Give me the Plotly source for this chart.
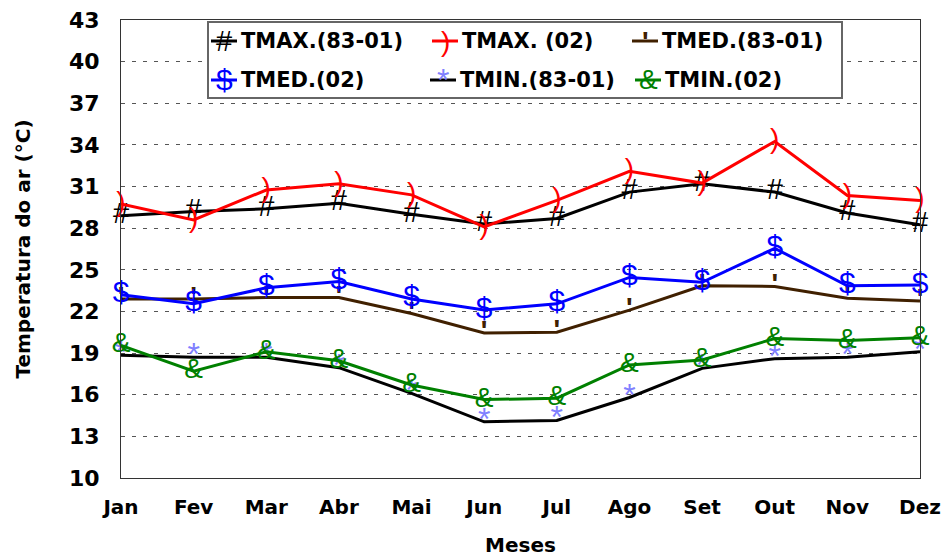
import plotly.graph_objects as go

meses = ['Jan', 'Fev', 'Mar', 'Abr', 'Mai', 'Jun', 'Jul', 'Ago', 'Set', 'Out', 'Nov', 'Dez']
tmax_8301 = [28.9, 29.2, 29.4, 29.8, 29.0, 28.3, 28.7, 30.6, 31.2, 30.6, 29.1, 28.25]
tmax_02 = [29.75, 28.6, 30.75, 31.2, 30.4, 28.1, 30.0, 32.1, 31.25, 34.25, 30.35, 30.0]
tmed_8301 = [22.9, 22.9, 23.0, 23.0, 21.85, 20.45, 20.5, 22.1, 23.85, 23.8, 22.95, 22.75]
tmed_02 = [23.2, 22.55, 23.7, 24.15, 22.9, 22.1, 22.55, 24.45, 24.1, 26.55, 23.85, 23.9]
tmin_8301 = [18.85, 18.7, 18.7, 17.95, 16.1, 14.05, 14.15, 15.8, 17.9, 18.6, 18.7, 19.1]
tmin_02 = [19.55, 17.7, 19.1, 18.45, 16.7, 15.65, 15.75, 18.15, 18.5, 20.05, 19.9, 20.1]
y_ticks = [10, 13, 16, 19, 22, 25, 28, 31, 34, 37, 40, 43]

series = [
    # name, values, line colour, glyph, glyph colour, glyph size, glyph weight
    ('TMAX.(83-01)', tmax_8301, '#000000', '#', '#000000', 29, 'normal'),
    ('TMAX. (02)', tmax_02, '#ff0000', ')', '#ff0000', 28, 'normal'),
    ('TMED.(83-01)', tmed_8301, '#402000', "'", '#402000', 28, 'bold'),
    ('TMED.(02)', tmed_02, '#0000ff', '$', '#0000ff', 30, 'normal'),
    ('TMIN.(83-01)', tmin_8301, '#000000', '*', '#8080ff', 32, 'normal'),
    ('TMIN.(02)', tmin_02, '#008000', '&', '#008000', 28, 'normal'),
]

xs = list(range(len(meses)))
fig = go.Figure()
for name, vals, lc, g, gc, gs, gw in series:
    fig.add_trace(go.Scatter(
        x=xs, y=vals, name=name, mode='lines+text',
        text=[g] * len(vals), textposition='middle center',
        textfont=dict(family='Liberation Sans', size=gs, color=gc, weight=gw),
        line=dict(color=lc, width=3), cliponaxis=False, showlegend=False))

W, H = 946, 559
L, R, T, B = 121, 26, 20, 81
pw, ph = W - L - R, H - T - B


def px(x):
    return (x - L) / pw


def py(y):
    return (H - B - y) / ph


shapes = [dict(type='rect', xref='paper', yref='paper', x0=px(208), x1=px(842),
               y0=py(98), y1=py(22), line=dict(color='#666666', width=2),
               fillcolor='white', layer='above')]
annotations = []
lfont = dict(family='DejaVu Sans', size=21, color='black', weight='bold')
legend_pos = [(211, 41), (432, 41), (632, 41), (211, 80), (430, 80), (635, 80)]
for (name, vals, lc, g, gc, gs, gw), (x0, yc) in zip(series, legend_pos):
    shapes.append(dict(type='line', xref='paper', yref='paper', x0=px(x0), x1=px(x0 + 26),
                       y0=py(yc), y1=py(yc), line=dict(color=lc, width=3), layer='above'))
    annotations.append(dict(xref='paper', yref='paper', x=px(x0 + 13), y=py(yc), text=g,
                            showarrow=False, xanchor='center', yanchor='middle',
                            font=dict(family='Liberation Sans', size=gs, color=gc, weight=gw)))
    annotations.append(dict(xref='paper', yref='paper', x=px(x0 + 28), y=py(yc), text=name,
                            showarrow=False, xanchor='left', yanchor='middle', font=lfont))

fig.update_layout(
    width=W, height=H, margin=dict(l=L, r=R, t=T, b=B, autoexpand=False),
    paper_bgcolor='white', plot_bgcolor='white',
    shapes=shapes, annotations=annotations,
    xaxis=dict(range=[0, 11], tickvals=xs, ticktext=meses, showgrid=False, automargin=False,
               showline=True, linecolor='#333333', linewidth=1, mirror=True,
               ticks='outside', ticklen=11, tickcolor='rgba(0,0,0,0)',
               tickfont=dict(family='DejaVu Sans', size=20, color='black', weight='bold'),
               title=dict(text='Meses', standoff=19,
                          font=dict(family='DejaVu Sans', size=20, color='black', weight='bold')),
               zeroline=False),
    yaxis=dict(range=[10, 43], tickvals=y_ticks, showgrid=True, gridcolor='#555555',
               griddash='4px,7px', gridwidth=1, automargin=False,
               showline=True, linecolor='#333333', linewidth=1, mirror=True,
               ticks='outside', ticklen=16, tickcolor='rgba(0,0,0,0)',
               tickfont=dict(family='DejaVu Sans', size=22, color='black', weight='bold'),
               title=dict(text='Temperatura do ar (°C)', standoff=32,
                          font=dict(family='DejaVu Sans', size=20, color='black', weight='bold')),
               zeroline=False),
)
fig.write_html('out.html', config={'displayModeBar': False},
               post_script="document.body.style.margin='0';document.body.style.overflow='hidden';")
